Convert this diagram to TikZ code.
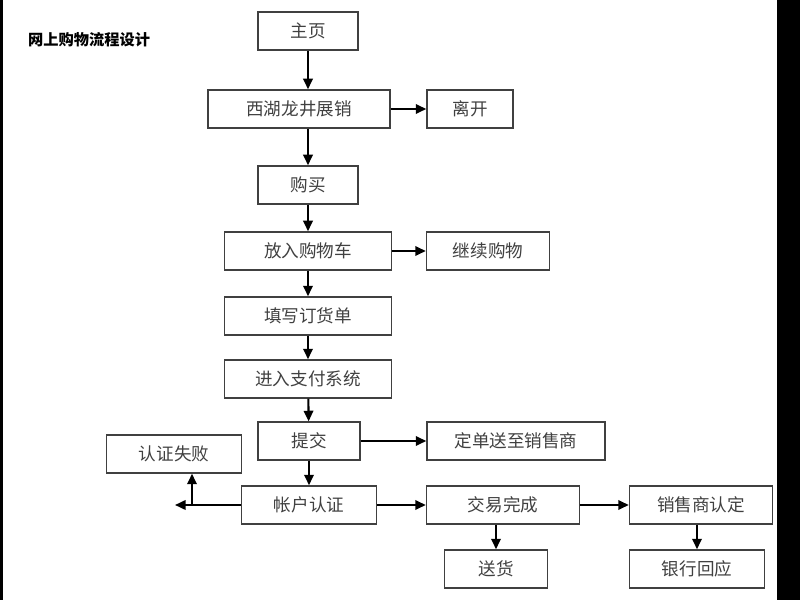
\documentclass[tikz,border=0pt]{standalone}
\usepackage{fontspec}
\setmainfont{Noto Sans CJK SC}
\usetikzlibrary{arrows.meta}
\usetikzlibrary{positioning}
\begin{document}
\begin{tikzpicture}
  [
    x=0.03cm,y=-0.03cm,
    box/.style={
      draw=black!75,
      line width=1.2pt,
      minimum height=38*0.03cm,
      inner sep=0pt,
      font=\fontsize{15}{15}\selectfont,
      text=black!75
    },
    w/.style={
      box,
      minimum width=#1*0.03cm
    },
    link/.style={
      line width=1.8pt,
      -{Triangle[length=9pt,width=8pt]}
    }
  ]
    \useasboundingbox (0,0) rectangle (800,600);
    \fill [black] (777,0) rectangle (800,600);
    \fill [black] (0,0) rectangle (3,600);
    \node [anchor=west,font=\bfseries\fontsize{13}{13}\selectfont] (title) at (24,40) {网上购物流程设计};
    % main column
    \node [w=100] (home) at (308,31) {主页};
    \node [w=182] (show) at (299,109) {西湖龙井展销};
    \node [w=86] (leave) at (470,109) {离开};
    \node [w=100] (buy) at (308,185) {购买};
    \node [w=167] (cart) at (308,251) {放入购物车};
    \node [w=123] (more) at (488,251) {继续购物};
    \node [w=167] (order) at (308,316) {填写订货单};
    \node [w=167] (pay) at (308,379) {进入支付系统};
    \node [w=102] (submit) at (309,441) {提交};
    \node [w=178] (send) at (516,441) {定单送至销售商};
    \node [w=135] (fail) at (174,454) {认证失败};
    \node [w=135] (auth) at (309,505) {帐户认证};
    \node [w=153] (done) at (503,505) {交易完成};
    \node [w=143] (seller) at (701,505) {销售商认定};
    \node [w=103] (ship) at (496,569) {送货};
    \node [w=135] (bank) at (697,569) {银行回应};
    \coordinate (branch) at (192,505);
    \coordinate (lend) at (175,505);
    % connectors
    \draw [link] (home) -- (home |- show.north);
    \draw [link] (show) -- (leave);
    \draw [link] (home |- show.south) -- (buy);
    \draw [link] (buy) -- (cart);
    \draw [link] (cart) -- (more);
    \draw [link] (cart) -- (order);
    \draw [link] (order) -- (pay);
    \draw [link] (pay) -- (submit);
    \draw [link] (submit) -- (send);
    \draw [link] (submit) -- (auth);
    \draw [link] (auth) -- (lend);
    \draw [link] (branch) -- (branch |- fail.south);
    \draw [link] (auth) -- (done);
    \draw [link] (done) -- (seller);
    \draw [link] (done.south -| ship) -- (ship);
    \draw [link] (seller.south -| bank) -- (bank);
  \end{tikzpicture}
\end{document}
